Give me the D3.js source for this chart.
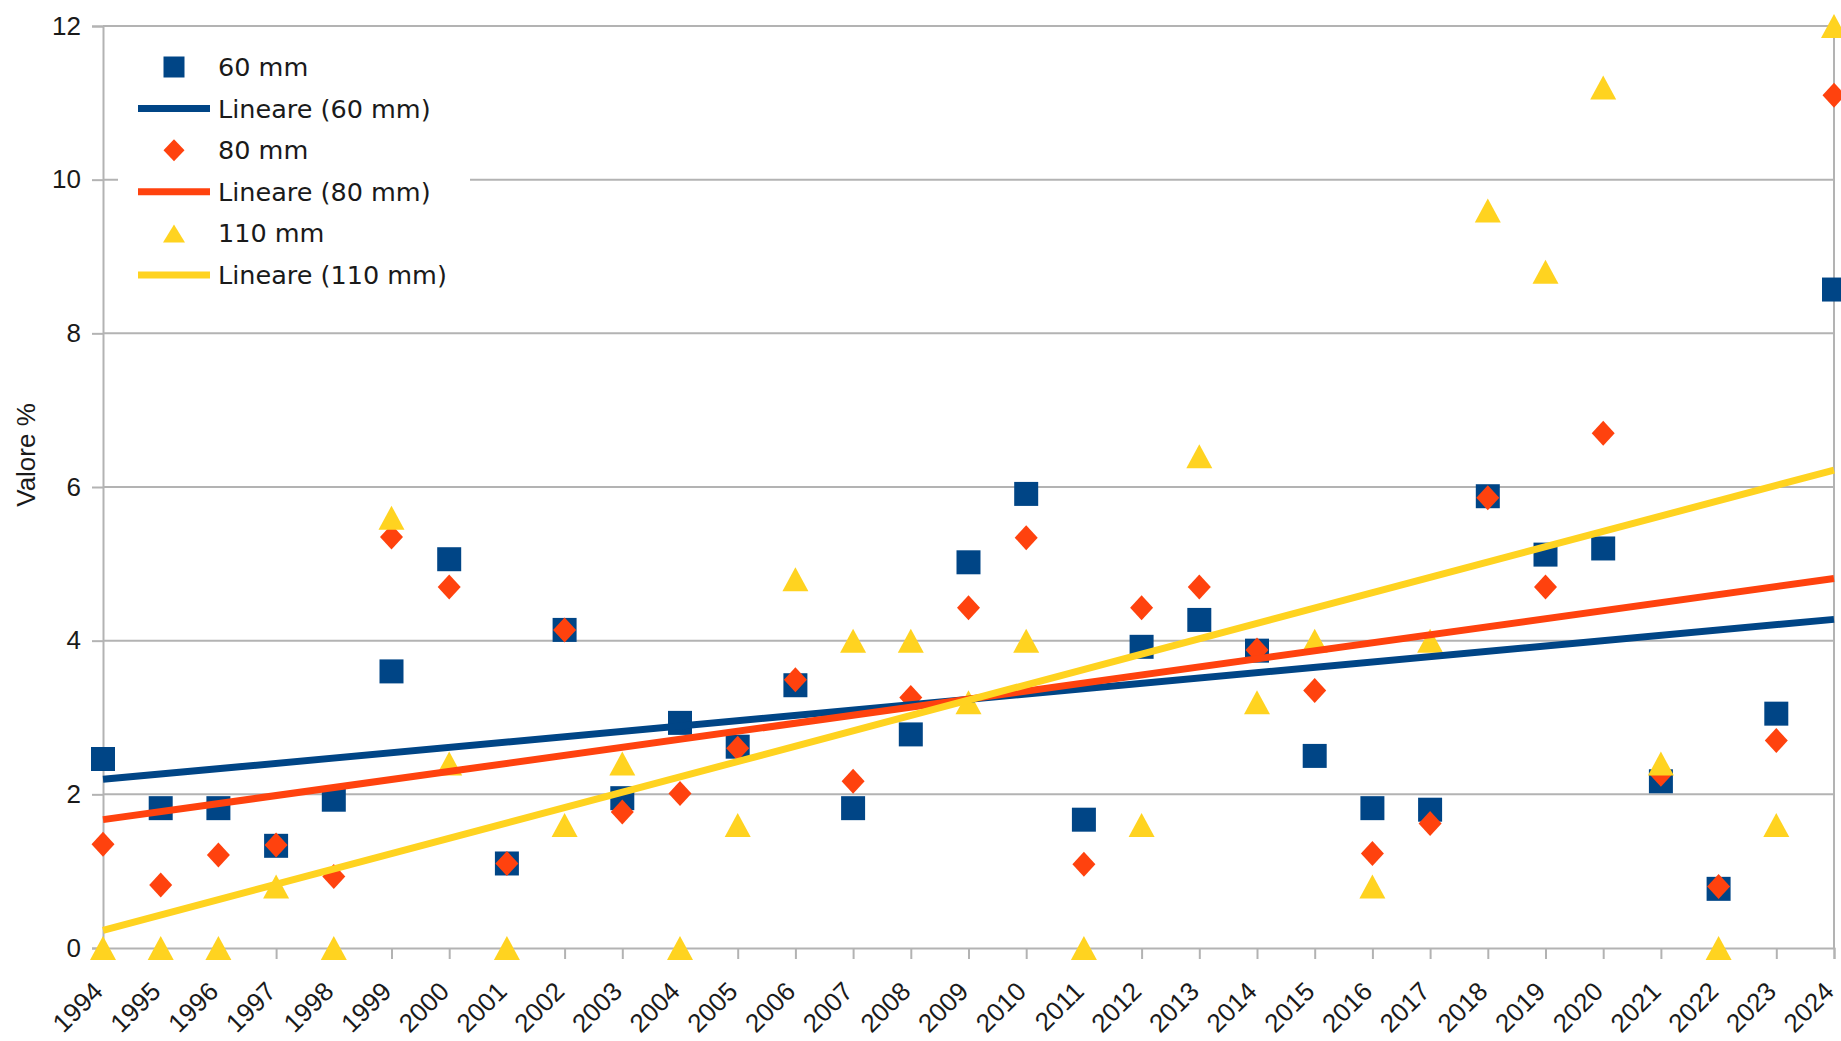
<!DOCTYPE html>
<html>
<head>
<meta charset="utf-8">
<script src="https://cdn.jsdelivr.net/npm/d3@7"></script>
<style>
  html, body { margin: 0; padding: 0; background: #ffffff; }
  svg { display: block; }
</style>
</head>
<body>
<svg id="chart" width="1841" height="1041"></svg>
<script>
// Percentage of yearly totals per nominal diameter
const years = [1994, 1995, 1996, 1997, 1998, 1999, 2000, 2001, 2002, 2003, 2004,
               2005, 2006, 2007, 2008, 2009, 2010, 2011, 2012, 2013, 2014,
               2015, 2016, 2017, 2018, 2019, 2020, 2021, 2022, 2023, 2024];
const mm60  = [2.46, 1.82, 1.82, 1.33, 1.93, 3.60, 5.06, 1.10, 4.14, 1.95, 2.93,
               2.62, 3.42, 1.82, 2.78, 5.02, 5.91, 1.67, 3.92, 4.27, 3.87,
               2.50, 1.82, 1.80, 5.88, 5.12, 5.20, 2.17, 0.77, 3.05, 8.57];
const mm80  = [1.35, 0.82, 1.21, 1.34, 0.93, 5.35, 4.70, 1.10, 4.14, 1.77, 2.01,
               2.60, 3.49, 2.17, 3.26, 4.43, 5.34, 1.09, 4.43, 4.70, 3.88,
               3.35, 1.23, 1.62, 5.86, 4.70, 6.70, 2.26, 0.80, 2.70, 11.10];
const mm110 = [0, 0, 0, 0.8, 0, 5.6, 2.4, 0, 1.6, 2.4, 0,
               1.6, 4.8, 4.0, 4.0, 3.2, 4.0, 0, 1.6, 6.4, 3.2,
               4.0, 0.8, 4.0, 9.6, 8.8, 11.2, 2.4, 0, 1.6, 12.0];
const seriesNames = ["60 mm", "80 mm", "110 mm"];
const trendNames  = ["Lineare (60 mm)", "Lineare (80 mm)", "Lineare (110 mm)"];
const yTicks = [0, 2, 4, 6, 8, 10, 12];
const yTitle = "Valore %";

const colors = ["#004586", "#ff420e", "#ffd320"];
const shapes = ["square", "diamond", "triangle"];

const svg = d3.select("#chart");
const plot = { left: 103, right: 1834, top: 26, bottom: 948 };

const x = d3.scaleLinear().domain([years[0], years[years.length - 1]]).range([plot.left, plot.right]);
const y = d3.scaleLinear().domain([0, 12]).range([plot.bottom, plot.top]);

const gridColor = "#b3b3b3";
const textColor = "#1a1a1a";

// Marker outlines, centred on the data point
function markerPath(kind, w, h) {
  const p = d3.path();
  if (kind === "square") {
    p.rect(-w / 2, -h / 2, w, h);
  } else if (kind === "diamond") {
    p.moveTo(0, -h / 2); p.lineTo(w / 2, 0); p.lineTo(0, h / 2); p.lineTo(-w / 2, 0); p.closePath();
  } else {
    p.moveTo(0, -h / 2); p.lineTo(w / 2, h / 2); p.lineTo(-w / 2, h / 2); p.closePath();
  }
  return p.toString();
}
const markerSize = {
  square: [24, 24],
  diamond: [23, 25],
  triangle: [26, 24]
};

// Horizontal gridlines
svg.append("g").selectAll("line")
  .data(yTicks.filter(d => d > 0))
  .join("line")
  .attr("x1", plot.left).attr("x2", plot.right)
  .attr("y1", d => y(d)).attr("y2", d => y(d))
  .attr("stroke", gridColor).attr("stroke-width", 2);

// Y axis
const yAxis = d3.axisLeft(y).tickValues(yTicks).tickSize(11).tickPadding(11).tickFormat(d3.format("d"));
const gy = svg.append("g").attr("transform", `translate(${plot.left},0)`).call(yAxis);
gy.select(".domain").attr("stroke", gridColor).attr("stroke-width", 2);
gy.selectAll(".tick line").attr("stroke", gridColor).attr("stroke-width", 2);
gy.selectAll(".tick text")
  .attr("fill", textColor)
  .style("font-family", "'Liberation Sans', Arial, sans-serif")
  .style("font-size", "26px");

// Right frame edge
svg.append("line")
  .attr("x1", plot.right).attr("x2", plot.right)
  .attr("y1", plot.top).attr("y2", plot.bottom)
  .attr("stroke", gridColor).attr("stroke-width", 2);

// X axis with rotated year labels
const xAxis = d3.axisBottom(x).tickValues(years).tickSize(11).tickFormat(d3.format("d"));
const gx = svg.append("g").attr("transform", `translate(0,${plot.bottom})`).call(xAxis);
gx.select(".domain").attr("stroke", gridColor).attr("stroke-width", 2);
gx.selectAll(".tick line").attr("stroke", gridColor).attr("stroke-width", 2);
gx.selectAll(".tick text")
  .attr("fill", textColor)
  .attr("text-anchor", "end")
  .attr("x", null).attr("y", null).attr("dy", null)
  .attr("transform", "translate(1,45) rotate(-45)")
  .style("font-family", "'Liberation Sans', Arial, sans-serif")
  .style("font-size", "26px");

// Y axis title
svg.append("text")
  .attr("transform", `translate(26,${(plot.top + plot.bottom) / 2 - 32}) rotate(-90)`)
  .attr("text-anchor", "middle")
  .attr("dy", "0.35em")
  .attr("fill", textColor)
  .style("font-family", "'Liberation Sans', Arial, sans-serif")
  .style("font-size", "26px")
  .text(yTitle);

// Scatter markers
const allSeries = [mm60, mm80, mm110];
allSeries.forEach((vals, i) => {
  const [w, h] = markerSize[shapes[i]];
  svg.append("g").selectAll("path")
    .data(vals.map((v, k) => ({ year: years[k], value: v })))
    .join("path")
    .attr("d", markerPath(shapes[i], w, h))
    .attr("transform", d => `translate(${x(d.year)},${y(d.value)})`)
    .attr("fill", colors[i]);
});

// Least-squares trend lines over the full year range
function linearFit(xs, ys) {
  const mx = d3.mean(xs), my = d3.mean(ys);
  let sxy = 0, sxx = 0;
  xs.forEach((xv, k) => { sxy += (xv - mx) * (ys[k] - my); sxx += (xv - mx) * (xv - mx); });
  const slope = sxy / sxx;
  return xv => my + slope * (xv - mx);
}
const line = d3.line().x(d => x(d[0])).y(d => y(d[1]));
allSeries.forEach((vals, i) => {
  const f = linearFit(years, vals);
  const ends = [years[0], years[years.length - 1]].map(yr => [yr, f(yr)]);
  svg.append("path")
    .attr("d", line(ends))
    .attr("fill", "none")
    .attr("stroke", colors[i])
    .attr("stroke-width", 7);
});

// Legend
const legend = svg.append("g");
legend.append("rect")
  .attr("x", 118).attr("y", 40).attr("width", 352).attr("height", 262)
  .attr("fill", "#ffffff");
const legendRows = [];
seriesNames.forEach((n, i) => {
  legendRows.push({ label: n, kind: "marker", idx: i });
  legendRows.push({ label: trendNames[i], kind: "line", idx: i });
});
const rowY = d3.scaleLinear().domain([0, 5]).range([67, 275]);
const row = legend.selectAll("g.row").data(legendRows).join("g")
  .attr("class", "row")
  .attr("transform", (d, k) => `translate(0,${rowY(k)})`);
row.filter(d => d.kind === "marker").append("path")
  .attr("d", d => {
    const s = { square: [21, 21], diamond: [21, 22], triangle: [22, 18] }[shapes[d.idx]];
    return markerPath(shapes[d.idx], s[0], s[1]);
  })
  .attr("transform", "translate(174,0)")
  .attr("fill", d => colors[d.idx]);
row.filter(d => d.kind === "line").append("line")
  .attr("x1", 138).attr("x2", 210).attr("y1", 0).attr("y2", 0)
  .attr("stroke", d => colors[d.idx]).attr("stroke-width", 7);
row.append("text")
  .attr("x", 218).attr("dy", "0.35em")
  .attr("fill", textColor)
  .style("font-family", "'DejaVu Sans', sans-serif")
  .style("font-size", "25.5px")
  .text(d => d.label);
</script>
</body>
</html>
